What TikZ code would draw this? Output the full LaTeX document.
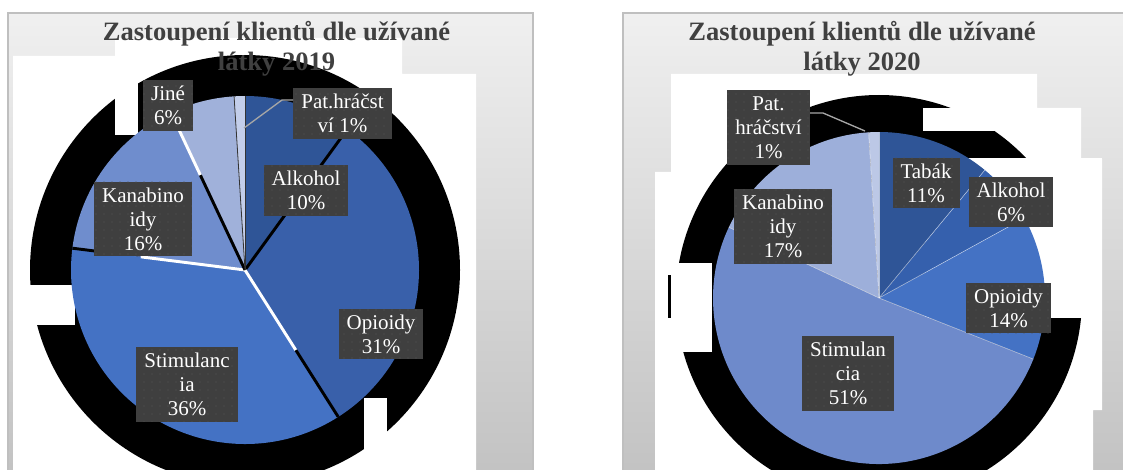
\documentclass[tikz,border=0pt]{standalone}
\usepackage{fontspec}
\setmainfont{Liberation Serif}
\usetikzlibrary{patterns.meta}
\definecolor{framegray}{HTML}{BFBFBF}
\definecolor{ttlgray}{HTML}{404040}
\definecolor{lblgray}{HTML}{3F3F3F}
\definecolor{dotgray}{HTML}{555555}
\definecolor{leadgray}{HTML}{A6A6A6}
\definecolor{alk19}{HTML}{2F5597}
\definecolor{opi19}{HTML}{3960AA}
\definecolor{sti19}{HTML}{4472C4}
\definecolor{kan19}{HTML}{6F8DCD}
\definecolor{jin19}{HTML}{A0B1DA}
\definecolor{pat19}{HTML}{C3CEEA}
\definecolor{tab20}{HTML}{2F5597}
\definecolor{alk20}{HTML}{3560AD}
\definecolor{opi20}{HTML}{4472C4}
\definecolor{sti20}{HTML}{6E8ACB}
\definecolor{kan20}{HTML}{9DAFDA}
\definecolor{pat20}{HTML}{BCC8E6}
\begin{document}
\begin{tikzpicture}[x=0.75pt,y=-0.75pt,
  lbl/.style={fill=lblgray,postaction={pattern={Dots[radius=0.45pt,distance=6pt]},pattern color=dotgray},
    text=white,align=center,font=\fontsize{15.75}{18}\selectfont,inner xsep=6pt,inner ysep=4.5pt},
  ttl/.style={text=ttlgray,align=center,font=\bfseries\fontsize{19.9}{22.5}\selectfont,inner sep=0pt},
  leader/.style={draw=leadgray,line width=1pt}]
\useasboundingbox (0,0) rectangle (1123,470);
% frames
\shade[top color=black!6,bottom color=black!24] (8,13) rectangle (533,480);
\shade[top color=black!6,bottom color=black!24] (623,13) rectangle (1130,480);
\draw[framegray,line width=1.1pt] (533,480) -- (533,13) -- (8,13) -- (8,480);
\draw[framegray,line width=1.1pt] (623,480) -- (623,13) -- (1130,13);
\fill[white] (13,480) -- (13,56) -- (115,56) -- (115,38) -- (402,38) -- (402,74) -- (476,74) -- (476,480) -- cycle;
\fill[white] (655,480) -- (655,172) -- (671,172) -- (671,74) -- (1037,74) -- (1037,108) -- (1081,108) -- (1081,159)
  -- (1102,159) -- (1102,410) -- (1093,410) -- (1093,480) -- cycle;

% 2019
\coordinate (c19) at (245,270);
\fill[black] (c19) circle (215);
\fill[white] (115,56) rectangle (138,135);
\fill[white] (13,285) rectangle (75,325);
\fill[white] (364,398) rectangle (387,480);
\foreach \a/\b/\col in {-90/-54/alk19,-54/57.6/opi19,57.6/187.2/sti19,187.2/244.8/kan19,244.8/266.4/jin19,266.4/270/pat19}
  \fill[\col] (c19) -- ++(\a:174) arc[start angle=\a,end angle=\b,radius=174] -- cycle;
\draw[black,line width=2.2pt] (c19) -- ++(-54:174);
\draw[white,line width=2.2pt] (c19) -- ++(57.6:95);
\draw[black,line width=2.2pt] (c19) ++(57.6:95) -- ++(57.6:79);
\draw[white,line width=2.2pt] (c19) -- ++(187.2:105);
\draw[black,line width=2.2pt] (c19) ++(187.2:150) -- ++(187.2:24);
\draw[black,line width=2.2pt] (c19) -- ++(244.8:105);
\draw[white,line width=2.2pt] (c19) ++(244.8:105) -- ++(244.8:69);
\draw[black!80,line width=0.6pt] (c19) -- ++(266.4:174);
\draw[black!80,line width=0.6pt] (c19) -- ++(270:174);

\node[ttl] (ttl19) at (276.5,48.5) {Zastoupení klientů dle užívané\\látky 2019};
\node[lbl] (jin19lbl) at (168,105.5) {Jiné\\6\%};
\node[lbl] (pat19lbl) at (342.5,113.5) {Pat.hráčst\\ví 1\%};
\node[lbl] (alk19lbl) at (306,190.5) {Alkohol\\10\%};
\node[lbl] (kan19lbl) at (143,219) {Kanabino\\idy\\16\%};
\node[lbl] (opi19lbl) at (381,334) {Opioidy\\31\%};
\node[lbl] (sti19lbl) at (187,384.5) {Stimulanc\\ia\\36\%};
\coordinate (pat19a) at (244,128);
\coordinate (pat19b) at (282,100);
\draw[leader] (pat19a) -- (pat19b) -- (pat19lbl.west |- pat19b);

% 2020
\coordinate (c20) at (879,298);
\fill[black] (c20) circle (203);
\fill[white] (655,263) rectangle (712,352);
\fill[white] (923,108) rectangle (1037,131);
\fill[white] (925,158) rectangle (1102,318);
\fill[black] (668,275) rectangle (671,318);
\foreach \a/\b/\col in {-90/-50.4/tab20,-50.4/-28.8/alk20,-28.8/21.6/opi20,21.6/205.2/sti20,205.2/266.4/kan20,266.4/270/pat20}
  \fill[\col] (c20) -- ++(\a:166) arc[start angle=\a,end angle=\b,radius=166] -- cycle;
\foreach \a in {-50.4,-28.8,21.6,205.2,266.4,270}
  \draw[white,opacity=0.6,line width=0.4pt] (c20) -- ++(\a:166);

\node[ttl] (ttl20) at (862,48.5) {Zastoupení klientů dle užívané\\látky 2020};
\node[lbl] (pat20lbl) at (768.5,127.5) {Pat.\\hráčství\\1\%};
\node[lbl] (tab20lbl) at (926,183) {Tabák\\11\%};
\node[lbl] (alk20lbl) at (1011,202) {Alkohol\\6\%};
\node[lbl] (kan20lbl) at (783,226.5) {Kanabino\\idy\\17\%};
\node[lbl] (opi20lbl) at (1008.5,308) {Opioidy\\14\%};
\node[lbl] (sti20lbl) at (848,373.5) {Stimulan\\cia\\51\%};
\coordinate (pat20a) at (865,131);
\coordinate (pat20b) at (823,113);
\draw[leader] (pat20lbl.east |- pat20b) -- (pat20b) -- (pat20a);
\end{tikzpicture}
\end{document}
